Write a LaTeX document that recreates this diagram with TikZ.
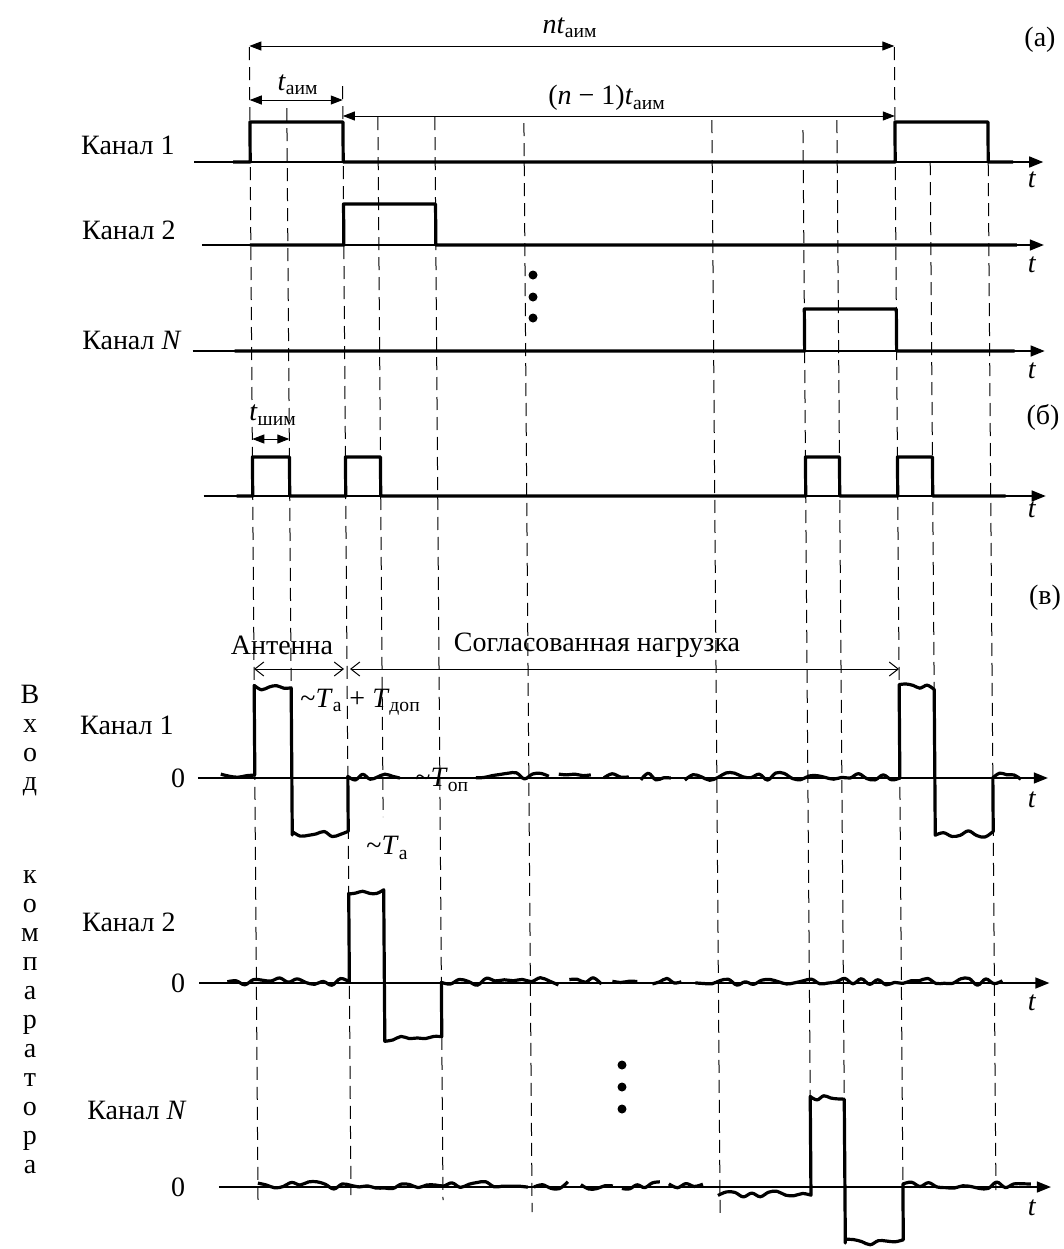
\documentclass[tikz,border=0pt]{standalone}
\usepackage{fontspec}
\setmainfont{Liberation Serif}
\usetikzlibrary{arrows.meta}
\def\xA{249}\def\xB{286}\def\xC{342}\def\xD{377}\def\xE{434}\def\xF{523}
\def\xG{711}\def\xH{802}\def\xI{836}\def\xJ{894}\def\xK{929}\def\xL{987}
\newcommand{\ti}[1]{\textit{#1}}
\newcommand{\tl}{\textasciitilde}
\begin{document}
\begin{tikzpicture}[x=0.5pt,y=-0.5pt,
  lbl/.style={font=\fontsize{14}{16}\selectfont, inner sep=0pt},
  guide/.style={line width=0.5pt, dash pattern=on 6.5pt off 3.5pt},
  axis/.style={line width=0.7pt, -{Triangle[length=7pt,width=5.5pt]}},
  sig/.style={line width=1.6pt, line join=round},
  nzp/.style n args={3}{smooth, tension=0.6, samples=#3, domain=#1:#2, variable=\u},
  dim/.style={line width=0.5pt, {Triangle[length=6pt,width=4.5pt]}-{Triangle[length=6pt,width=4.5pt]}},
  odim/.style={line width=0.5pt, {Straight Barb[length=4.5pt,width=7pt]}-{Straight Barb[length=4.5pt,width=7pt]}},
  dotn/.style={circle, fill, inner sep=0pt, minimum size=4.5pt}
]
\pgfmathsetseed{4242}
\useasboundingbox (0,0) rectangle (1064,1249);

\begin{scope}[xslant=-0.0075]
% guide lines
\draw[guide] (\xA,47) -- (\xA,1200);
\draw[guide] (\xB,108) -- (\xB,688);
\draw[guide] (\xC,86) -- (\xC,1195);
\draw[guide] (\xD,117) -- (\xD,817);
\draw[guide] (\xE,117) -- (\xE,1200);
\draw[guide] (\xF,123) -- (\xF,1212);
\draw[guide] (\xG,120) -- (\xG,1215);
\draw[guide] (\xH,130) -- (\xH,1098);
\draw[guide] (\xI,120) -- (\xI,1098);
\draw[guide] (\xJ,47) -- (\xJ,1200);
\draw[guide] (\xK,162) -- (\xK,688);
\draw[guide] (\xL,163) -- (\xL,1190);

% dimension arrows
\draw[dim] (\xA,46) -- (\xJ,46);
\draw[dim] (\xA,100) -- (\xC,100);
\draw[dim] (\xC,116) -- (\xJ,116);
\draw[dim] (\xA,439) -- (\xB,439);
\draw[odim] (\xA,669) -- ({\xC-3},669);
\draw[odim] ({\xC+3},669) -- (\xJ,669);

% (a) channels
\draw[axis] (193,162) -- (1042,162);
\draw[sig] (232,162) -- (\xA,162) -- (\xA,122) -- (\xC,122) -- (\xC,162) -- (\xJ,162)
  -- (\xJ,122) -- (\xL,122) -- (\xL,162) -- (1012,162);
\draw[axis] (200,245) -- (1042,245);
\draw[sig] (248,245) -- (\xC,245) -- (\xC,204) -- (\xE,204) -- (\xE,245) -- (1015,245);
\draw[axis] (190,351) -- (1042,351);
\draw[sig] (232,351) -- (\xH,351) -- (\xH,309) -- (\xJ,309) -- (\xJ,351) -- (1012,351);

% (b)
\draw[axis] (200,496) -- (1042,496);
\draw[sig] (233,496) -- (\xA,496) -- (\xA,457) -- (\xB,457) -- (\xB,496) -- (\xC,496)
  -- (\xC,457) -- (\xD,457) -- (\xD,496) -- (\xH,496) -- (\xH,457) -- (\xI,457)
  -- (\xI,496) -- (\xJ,496) -- (\xJ,457) -- (\xK,457) -- (\xK,496) -- (1002,496);

% (v) channel 1
\draw[axis] (192,778) -- (1042,778);
\draw[sig] plot[nzp={215}{\xA}{5}] (\u,{778-1.5-3.8*rand}) -- (\xA,688)
  -- plot[nzp={\xA}{\xB}{6}] (\u,{688-1.2-3.2*rand}) -- (\xB,835)
  -- plot[nzp={\xB}{\xC}{8}] (\u,{835-1.2-3.2*rand}) -- (\xC,778)
  -- plot[nzp={\xC}{394}{8}] (\u,{778-1.5-3.8*rand});
\draw[sig] plot[nzp={470}{543}{10}] (\u,{778-1.5-3.8*rand});
\draw[sig] plot[nzp={553}{585}{5}] (\u,{778-1.5-3.8*rand});
\draw[sig] plot[nzp={598}{623}{4}] (\u,{778-1.5-3.8*rand});
\draw[sig] plot[nzp={635}{665}{5}] (\u,{778-1.5-3.8*rand});
\draw[sig] plot[nzp={679}{\xJ}{27}] (\u,{778-1.5-3.8*rand}) -- (\xJ,688)
  -- plot[nzp={\xJ}{\xK}{6}] (\u,{688-1.2-3.2*rand}) -- (\xK,835)
  -- plot[nzp={\xK}{\xL}{8}] (\u,{835-1.2-3.2*rand}) -- (\xL,778)
  -- plot[nzp={\xL}{1015}{5}] (\u,{778-1.5-3.8*rand});

% (v) channel 2
\draw[axis] (192,983) -- (1042,983);
\draw[sig] plot[nzp={220}{\xC}{15}] (\u,{983-1.5-3.8*rand}) -- (\xC,893)
  -- plot[nzp={\xC}{\xD}{6}] (\u,{893-1.2-3.2*rand}) -- (\xD,1040)
  -- plot[nzp={\xD}{\xE}{8}] (\u,{1040-1.2-3.2*rand}) -- (\xE,983)
  -- plot[nzp={\xE}{551}{14}] (\u,{983-1.5-3.8*rand});
\draw[sig] plot[nzp={562}{594}{5}] (\u,{983-1.5-3.8*rand});
\draw[sig] plot[nzp={605}{630}{4}] (\u,{983-1.5-3.8*rand});
\draw[sig] plot[nzp={645}{674}{5}] (\u,{983-1.5-3.8*rand});
\draw[sig] plot[nzp={688}{995}{38}] (\u,{983-1.5-3.8*rand});

% (v) channel N
\draw[axis] (210,1187) -- (1042,1187);
\draw[sig] plot[nzp={249}{519}{33}] (\u,{1187-1.5-3.8*rand});
\draw[sig] plot[nzp={525}{559}{5}] (\u,{1187-1.5-3.8*rand});
\draw[sig] plot[nzp={572}{604}{5}] (\u,{1187-1.5-3.8*rand});
\draw[sig] plot[nzp={613}{651}{6}] (\u,{1187-1.5-3.8*rand});
\draw[sig] plot[nzp={660}{694}{5}] (\u,{1187-1.5-3.8*rand});
\draw[sig] plot[nzp={709}{\xH}{12}] (\u,{1194-4*rand}) -- (\xH,1098)
  -- plot[nzp={\xH}{\xI}{6}] (\u,{1098-1.2-3.2*rand}) -- (\xI,1243)
  -- plot[nzp={\xI}{\xJ}{8}] (\u,{1243-1.2-3.2*rand}) -- (\xJ,1187)
  -- plot[nzp={\xJ}{1022}{16}] (\u,{1187-1.5-3.8*rand});
\end{scope}

% dots
\node[dotn] (d1) at (533,275) {};
\node[dotn] (d2) at (533,297) {};
\node[dotn] (d3) at (533,318) {};
\node[dotn] (d4) at (622,1065) {};
\node[dotn] (d5) at (622,1087) {};
\node[dotn] (d6) at (622,1109) {};

% labels
\node[lbl] (lnt) at (570,28) {\ti{nt}\textsubscript{аим}};
\node[lbl] (lta) at (298,85) {\ti{t}\textsubscript{аим}};
\node[lbl] (ln1) at (607,98) {(\ti{n} − 1)\ti{t}\textsubscript{аим}};
\node[lbl] (pa) at (1040,40) {(а)};
\node[lbl] (pb) at (1043,417) {(б)};
\node[lbl] (pv) at (1045,598) {(в)};
\node[lbl] (tsh) at (273,415) {\ti{t}\textsubscript{шим}};

\node[lbl,anchor=east] (k1) at (175,145) {Канал 1};
\node[lbl,anchor=east] (k2) at (176,230) {Канал 2};
\node[lbl,anchor=east] (kN) at (182,340) {Канал \ti{N}};
\node[lbl,anchor=east] (k1v) at (174,725) {Канал 1};
\node[lbl,anchor=east] (k2v) at (176,922) {Канал 2};
\node[lbl,anchor=east] (kNv) at (187,1110) {Канал \ti{N}};

\node[lbl] (z1) at (178,778) {0};
\node[lbl] (z2) at (178,983) {0};
\node[lbl] (z3) at (178,1187) {0};

\foreach \yy/\nm in {180/t1,265/t2,371/t3,510/t4,800/t5,1003/t6,1208/t7}
  \node[lbl] (\nm) at (1032,\yy) {\ti{t}};

\node[lbl] (ant) at (282,645) {Антенна};
\node[lbl] (sog) at (597,645) {Согласованная нагрузка};
\node[lbl,anchor=west] (tad) at (300,702) {\tl\ti{T}\textsubscript{а} + \ti{T}\textsubscript{доп}};
\node[lbl,anchor=west] (top) at (415,780) {\tl\ti{T}\textsubscript{оп}};
\node[lbl,anchor=west] (ta) at (366,848) {\tl\ti{T}\textsubscript{а}};

\node[lbl,align=center,font=\fontsize{14}{14.5}\selectfont] (vh) at (30,741) {В\\х\\о\\д};
\node[lbl,align=center,font=\fontsize{14}{14.5}\selectfont] (vk) at (30,1022) {к\\о\\м\\п\\а\\р\\а\\т\\о\\р\\а};
\end{tikzpicture}
\end{document}
